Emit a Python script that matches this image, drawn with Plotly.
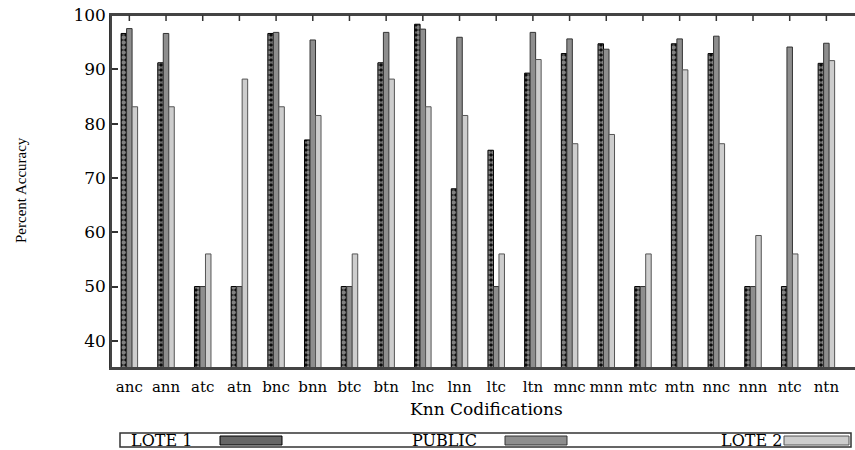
import plotly.graph_objects as go

categories = ["anc", "ann", "atc", "atn", "bnc", "bnn", "btc", "btn", "lnc", "lnn",
              "ltc", "ltn", "mnc", "mnn", "mtc", "mtn", "nnc", "nnn", "ntc", "ntn"]
lote1 = [96.6, 91.2, 50, 50, 96.6, 77.0, 50, 91.2, 98.3, 68.0,
         75.1, 89.3, 92.9, 94.7, 50, 94.7, 92.9, 50, 50, 91.1]
public = [97.5, 96.6, 50, 50, 96.8, 95.4, 50, 96.8, 97.4, 95.9,
          50, 96.8, 95.6, 93.7, 50, 95.6, 96.1, 50, 94.1, 94.8]
lote2 = [83.1, 83.1, 56.0, 88.2, 83.1, 81.5, 56.0, 88.2, 83.1, 81.5,
         56.0, 91.8, 76.3, 78.0, 56.0, 89.9, 76.3, 59.4, 56.0, 91.6]
yticks = [40, 50, 60, 70, 80, 90, 100]

W, H = 855, 450
L, R, T, B = 111, 0, 15, 82
pw, ph = W - L - R, H - T - B

def px(x):
    return (x - L) / pw

def py(y):
    return (H - B - y) / ph

serif = "DejaVu Serif"

fig = go.Figure()
fig.add_trace(go.Bar(x=categories, y=lote1, name="LOTE 1",
                     marker=dict(color="black", line=dict(color="black", width=1),
                                 pattern=dict(shape=".", fgcolor="white", bgcolor="black",
                                              size=5, solidity=0.7))))
fig.add_trace(go.Bar(x=categories, y=public, name="PUBLIC",
                     marker=dict(color="#8e8e8e", line=dict(color="#333333", width=1))))
fig.add_trace(go.Bar(x=categories, y=lote2, name="LOTE 2",
                     marker=dict(color="#cdcdcd", line=dict(color="#555555", width=1))))

xr = [-0.5, 19.78]
fig.update_layout(
    width=W, height=H,
    margin=dict(l=L, r=R, t=T, b=B, pad=0),
    paper_bgcolor="white", plot_bgcolor="white",
    barmode="group", bargap=0.55, bargroupgap=0,
    showlegend=False,
    font=dict(family=serif, color="black"),
    xaxis=dict(type="category", range=xr, showline=True, mirror=True,
               linecolor="#444444", linewidth=2, ticks="",
               showgrid=False, zeroline=False,
               tickfont=dict(family=serif, size=15, color="black"), ticklabelstandoff=4),
    yaxis=dict(range=[35, 100], tickvals=yticks, ticks="inside", ticklen=7,
               tickcolor="#333333", tickwidth=1.5, showline=True, linecolor="#333333",
               linewidth=1.5, showgrid=False, zeroline=False,
               tickfont=dict(family=serif, size=17, color="black")),
)

ann = []
ann.append(dict(text="Knn Codifications", x=px(486), y=py(409), xref="paper", yref="paper",
                showarrow=False, xanchor="center", yanchor="middle",
                font=dict(family=serif, size=17, color="black")))
ann.append(dict(text="Percent Accuracy", x=px(21), y=py(190), xref="paper", yref="paper",
                showarrow=False, xanchor="center", yanchor="middle", textangle=-90,
                font=dict(family="Liberation Serif", size=15, color="black")))

shapes = []
# plot frame (top edge; right edge pushed off-canvas)
shapes.append(dict(type="rect", xref="paper", yref="paper", x0=0, x1=1.05, y0=0, y1=1,
                   line=dict(color="#444444", width=2), fillcolor="rgba(0,0,0,0)",
                   layer="above"))
# top tick marks at category centres (gnuplot-style mirrored ticks)
for c in categories:
    shapes.append(dict(type="rect", xref="x", yref="paper", x0=c, x1=c,
                       y0=1, y1=1 - 6 / ph, line=dict(color="#333333", width=1.5),
                       fillcolor="rgba(0,0,0,0)", layer="above"))
# legend box
shapes.append(dict(type="rect", xref="paper", yref="paper", x0=px(120), x1=px(851),
                   y0=py(447), y1=py(433), line=dict(color="#333333", width=1.5),
                   fillcolor="white", layer="above"))
legend_items = [("LOTE 1", 129, 220, 282, "#666666", "black"),
                ("PUBLIC", 410, 505, 567, "#8e8e8e", "#333333"),
                ("LOTE 2", 719, 784, 849, "#cdcdcd", "#555555")]
for name, tx, s0, s1, fc, lc in legend_items:
    ann.append(dict(text=name, x=px(tx), y=py(440), xref="paper", yref="paper",
                    showarrow=False, xanchor="left", yanchor="middle",
                    font=dict(family=serif, size=16, color="black")))
    shapes.append(dict(type="rect", xref="paper", yref="paper", x0=px(s0), x1=px(s1),
                       y0=py(445), y1=py(436), line=dict(color=lc, width=1),
                       fillcolor=fc, layer="above"))

fig.update_layout(annotations=ann, shapes=shapes)
fig.write_html("out.html", config={"displayModeBar": False},
               post_script="document.body.style.margin='0';document.body.style.overflow='hidden';")
